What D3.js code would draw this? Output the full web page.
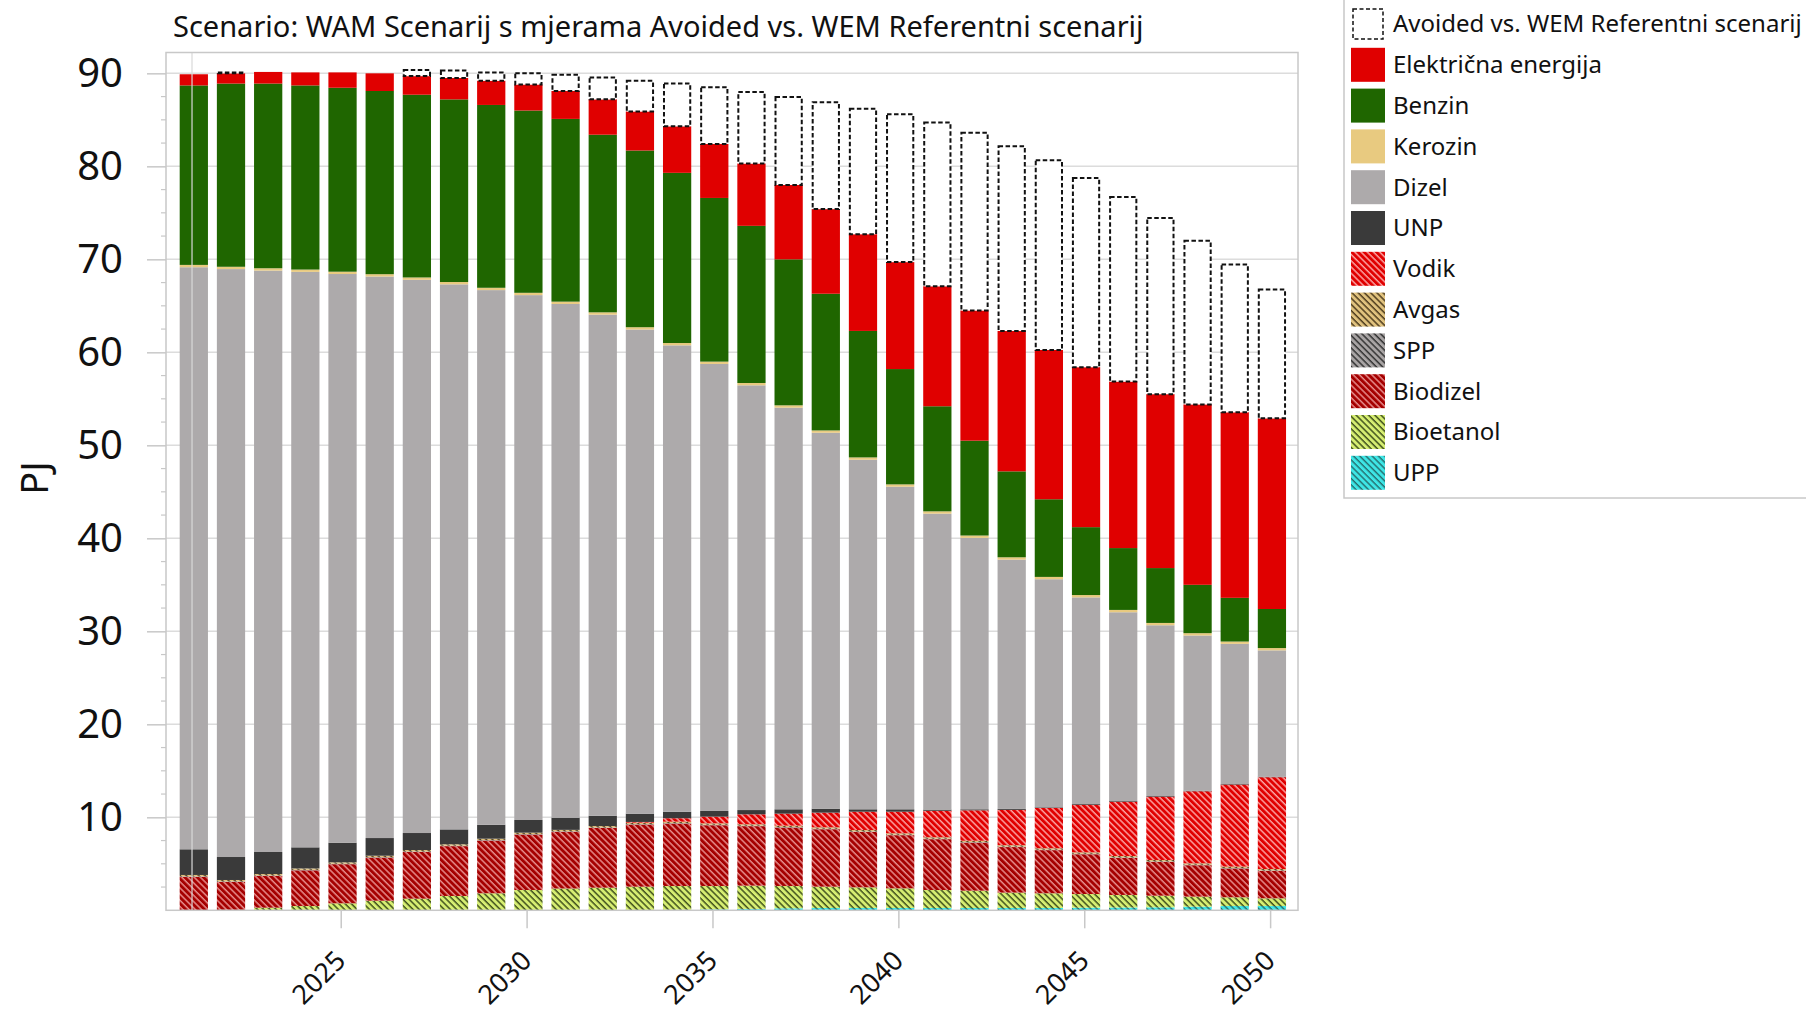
<!DOCTYPE html>
<html>
<head>
<meta charset="utf-8">
<script src="https://cdn.jsdelivr.net/npm/d3@7"></script>
<style>
  body { margin: 0; background: #fff; }
  svg { display: block; }
  text { font-family: "Segoe UI", "Noto Sans", "Open Sans", sans-serif; fill: #111; }
</style>
</head>
<body>
<svg id="chart" width="1806" height="1011"></svg>
<script>
const years = [2021, 2022, 2023, 2024, 2025, 2026, 2027, 2028, 2029, 2030,
               2031, 2032, 2033, 2034, 2035, 2036, 2037, 2038, 2039, 2040,
               2041, 2042, 2043, 2044, 2045, 2046, 2047, 2048, 2049, 2050];

// PJ per year, stack order bottom -> top
const upp = [0, 0, 0, 0, 0, 0, 0, 0, 0, 0,
             0, 0, 0, 0.05, 0.1, 0.15, 0.22, 0.25, 0.25, 0.25,
             0.25, 0.25, 0.25, 0.25, 0.28, 0.3, 0.32, 0.39, 0.46, 0.46];
const bioetanol = [0, 0.05, 0.28, 0.46, 0.75, 1.03, 1.25, 1.54, 1.83, 2.18,
                   2.34, 2.43, 2.54, 2.56, 2.51, 2.5, 2.39, 2.29, 2.22, 2.11,
                   1.93, 1.86, 1.65, 1.58, 1.47, 1.35, 1.25, 1.08, 0.94, 0.83];
const biodizel = [3.6, 3.01, 3.42, 3.84, 4.21, 4.64, 5.03, 5.36, 5.67, 5.97,
                  6.11, 6.43, 6.68, 6.72, 6.54, 6.4, 6.29, 6.18, 5.96, 5.72,
                  5.47, 5.17, 4.9, 4.64, 4.28, 3.99, 3.64, 3.38, 3.1, 2.95];
const spp = [0.05, 0.05, 0.05, 0.05, 0.05, 0.05, 0.05, 0.05, 0.05, 0.05,
             0.05, 0.05, 0.05, 0.05, 0.05, 0.05, 0.05, 0.05, 0.05, 0.05,
             0.05, 0.05, 0.05, 0.05, 0.05, 0.05, 0.05, 0.05, 0.05, 0.05];
const avgas = [0.15, 0.15, 0.15, 0.15, 0.15, 0.15, 0.15, 0.15, 0.15, 0.15,
               0.15, 0.15, 0.15, 0.15, 0.15, 0.15, 0.15, 0.15, 0.15, 0.15,
               0.15, 0.15, 0.15, 0.15, 0.15, 0.15, 0.15, 0.15, 0.15, 0.15];
const vodik = [0, 0, 0, 0, 0, 0, 0, 0, 0, 0,
               0, 0, 0.08, 0.37, 0.72, 1.07, 1.29, 1.58, 1.97, 2.32,
               2.85, 3.27, 3.8, 4.33, 5.12, 5.84, 6.81, 7.75, 8.82, 9.87];
const unp = [2.76, 2.47, 2.37, 2.27, 2.11, 1.9, 1.83, 1.6, 1.5, 1.36,
             1.31, 1.11, 0.89, 0.7, 0.61, 0.46, 0.47, 0.43, 0.26, 0.26,
             0.13, 0.11, 0.1, 0.07, 0.08, 0.07, 0.07, 0.06, 0.06, 0.06];
const dizel = [62.59, 63.22, 62.52, 61.88, 61.15, 60.38, 59.49, 58.61, 57.49, 56.44,
               55.24, 53.88, 52.06, 50.15, 48.07, 45.67, 43.19, 40.42, 37.59, 34.69,
               31.82, 29.19, 26.81, 24.53, 22.22, 20.3, 18.36, 16.69, 15.07, 13.58];
const kerozin = [0.25, 0.25, 0.25, 0.25, 0.25, 0.25, 0.25, 0.25, 0.25, 0.25,
                 0.25, 0.25, 0.25, 0.25, 0.25, 0.25, 0.25, 0.25, 0.25, 0.25,
                 0.25, 0.25, 0.25, 0.25, 0.25, 0.25, 0.25, 0.25, 0.25, 0.25];
const benzin = [19.3, 19.7, 19.86, 19.8, 19.78, 19.7, 19.65, 19.64, 19.66, 19.6,
                19.65, 19.1, 19.0, 18.3, 17.6, 16.9, 15.7, 14.7, 13.6, 12.4,
                11.3, 10.2, 9.24, 8.35, 7.3, 6.65, 5.9, 5.2, 4.7, 4.2];
const elektricna = [1.2, 1.1, 1.25, 1.4, 1.65, 1.9, 2.0, 2.3, 2.6, 2.8,
                    3.0, 3.8, 4.2, 5.0, 5.8, 6.7, 8.0, 9.1, 10.4, 11.5,
                    12.9, 14.0, 15.1, 16.05, 17.2, 17.9, 18.7, 19.4, 19.95, 20.5];
const avoided = [0, 0.1, 0, 0, 0, 0, 0.65, 0.8, 0.9, 1.2,
                 1.75, 2.35, 3.3, 4.6, 6.1, 7.7, 9.45, 11.5, 13.5, 15.9,
                 17.6, 19.1, 19.85, 20.4, 20.35, 19.85, 18.95, 17.6, 15.9, 13.85];

const yTicks = [10, 20, 30, 40, 50, 60, 70, 80, 90];
const xTicks = [2025, 2030, 2035, 2040, 2045, 2050];

const series = [
  { key: "upp", name: "UPP", values: upp, color: "#3ee6e6", hatch: "#1a3a3a" },
  { key: "bioetanol", name: "Bioetanol", values: bioetanol, color: "#d6ee72", hatch: "#2a3a10" },
  { key: "biodizel", name: "Biodizel", values: biodizel, color: "#a50000", hatch: "#f0a0a0" },
  { key: "spp", name: "SPP", values: spp, color: "#a8a4a4", hatch: "#222" },
  { key: "avgas", name: "Avgas", values: avgas, color: "#e0c27e", hatch: "#3a2a10" },
  { key: "vodik", name: "Vodik", values: vodik, color: "#e00000", hatch: "#ffb8b8" },
  { key: "unp", name: "UNP", values: unp, color: "#3a3a3a" },
  { key: "dizel", name: "Dizel", values: dizel, color: "#adaaab" },
  { key: "kerozin", name: "Kerozin", values: kerozin, color: "#e8ca80" },
  { key: "benzin", name: "Benzin", values: benzin, color: "#1f6600" },
  { key: "elektricna", name: "Električna energija", values: elektricna, color: "#e00000" },
  { key: "avoided", name: "Avoided vs. WEM Referentni scenarij", values: avoided, dashed: true }
];

const svg = d3.select("#chart");
const margin = { left: 166, top: 52.5, right: 1298, bottom: 910.3 };

const x = d3.scaleLinear().domain([2020.3, 2050.75]).range([margin.left, margin.right]);
const y = d3.scaleLinear().domain([0, 92.24]).range([margin.bottom, margin.top]);
const barW = x(2021.76) - x(2021);
const barShift = 1.8;

// hatch patterns
const defs = svg.append("defs");
series.filter((s) => s.hatch).forEach((s) => {
  const p = defs.append("pattern")
    .attr("id", "pat-" + s.key)
    .attr("patternUnits", "userSpaceOnUse")
    .attr("width", 4.4)
    .attr("height", 10)
    .attr("patternTransform", "rotate(-45)");
  p.append("rect").attr("width", 4.4).attr("height", 10).attr("fill", s.color);
  p.append("line")
    .attr("x1", 1).attr("x2", 1).attr("y1", 0).attr("y2", 10)
    .attr("stroke", s.hatch).attr("stroke-width", s.key === "upp" ? 1 : 1.3);
});

// grid
svg.append("g").selectAll("line").data(yTicks).join("line")
  .attr("x1", margin.left).attr("x2", margin.right)
  .attr("y1", (d) => y(d)).attr("y2", (d) => y(d))
  .attr("stroke", "#dcdcdc").attr("stroke-width", 1.5);

// stacked bars
const rows = years.map((yr, i) => {
  const r = { year: yr };
  series.forEach((s) => (r[s.key] = s.values[i]));
  return r;
});
const stacked = d3.stack().keys(series.map((s) => s.key))(rows);

stacked.forEach((layer, li) => {
  const s = series[li];
  const g = svg.append("g");
  const data = layer.filter((d) => d[1] - d[0] > 0);
  if (s.dashed) {
    g.selectAll("rect").data(data).join("rect")
      .attr("x", (d) => x(d.data.year) - barW / 2 + barShift + 1)
      .attr("y", (d) => y(d[1]))
      .attr("width", barW - 2)
      .attr("height", (d) => y(d[0]) - y(d[1]))
      .attr("fill", "#fff")
      .attr("stroke", "#111")
      .attr("stroke-width", 2)
      .attr("stroke-dasharray", "4.5,2.5");
  } else {
    g.selectAll("rect").data(data).join("rect")
      .attr("x", (d) => x(d.data.year) - barW / 2 + barShift)
      .attr("y", (d) => y(d[1]))
      .attr("width", barW)
      .attr("height", (d) => y(d[0]) - y(d[1]))
      .attr("fill", s.hatch ? `url(#pat-${s.key})` : s.color);
  }
});

// light vertical line at first year
svg.append("line")
  .attr("x1", x(2021)).attr("x2", x(2021))
  .attr("y1", margin.top).attr("y2", margin.bottom)
  .attr("stroke", "#d8d8d8").attr("stroke-opacity", 0.8).attr("stroke-width", 1.5);

// frame
svg.append("rect")
  .attr("x", margin.left).attr("y", margin.top)
  .attr("width", margin.right - margin.left).attr("height", margin.bottom - margin.top)
  .attr("fill", "none").attr("stroke", "#c8c8c8").attr("stroke-width", 1.5);

// y axis
const yAxis = svg.append("g").attr("transform", `translate(${margin.left},0)`)
  .call(d3.axisLeft(y).tickValues(yTicks).tickSize(19).tickPadding(24).tickFormat(d3.format("d")));
yAxis.select(".domain").remove();
yAxis.selectAll(".tick line").attr("stroke", "#c8c8c8").attr("stroke-width", 1.5);
yAxis.selectAll(".tick text").attr("font-size", 40).attr("font-family", null).attr("fill", "#111");

const minor = d3.range(0, 92, 2.5).filter((v) => v % 10 !== 0);
svg.append("g").selectAll("line").data(minor).join("line")
  .attr("x1", margin.left - 5).attr("x2", margin.left)
  .attr("y1", (d) => y(d)).attr("y2", (d) => y(d))
  .attr("stroke", "#c8c8c8").attr("stroke-width", 1.2);

svg.append("text")
  .attr("transform", `translate(48,478) rotate(-90)`)
  .attr("text-anchor", "middle")
  .attr("font-size", 38)
  .text("PJ");

// x axis
const xAxis = svg.append("g").attr("transform", `translate(0,${margin.bottom})`)
  .call(d3.axisBottom(x).tickValues(xTicks).tickSize(18).tickFormat(d3.format("d")));
xAxis.select(".domain").remove();
xAxis.selectAll(".tick line").attr("stroke", "#c8c8c8").attr("stroke-width", 1.5);
xAxis.selectAll(".tick text")
  .attr("font-size", 27).attr("font-family", null).attr("fill", "#111")
  .attr("text-anchor", "end")
  .attr("y", 0).attr("dy", 0)
  .attr("transform", "translate(6,52) rotate(-45)");

// title
svg.append("text")
  .attr("x", 173).attr("y", 37)
  .attr("font-size", 29)
  .text("Scenario: WAM Scenarij s mjerama Avoided vs. WEM Referentni scenarij");

// legend
const legend = svg.append("g");
legend.append("rect")
  .attr("x", 1344).attr("y", -2).attr("width", 500).attr("height", 500)
  .attr("fill", "#fff").attr("stroke", "#c8c8c8").attr("stroke-width", 1.5);

const legendItems = series.slice().reverse();
legendItems.forEach((s, i) => {
  const top = 7 + i * 40.8;
  if (s.dashed) {
    legend.append("rect")
      .attr("x", 1353).attr("y", top + 2).attr("width", 30).attr("height", 30)
      .attr("fill", "#fff").attr("stroke", "#111").attr("stroke-width", 1.5)
      .attr("stroke-dasharray", "4,2.5");
  } else {
    legend.append("rect")
      .attr("x", 1351).attr("y", top).attr("width", 34).attr("height", 34)
      .attr("fill", s.hatch ? `url(#pat-${s.key})` : s.color);
  }
  legend.append("text")
    .attr("x", 1393).attr("y", top + 17).attr("dy", "0.35em")
    .attr("font-size", 24)
    .text(s.name);
});
</script>
</body>
</html>
